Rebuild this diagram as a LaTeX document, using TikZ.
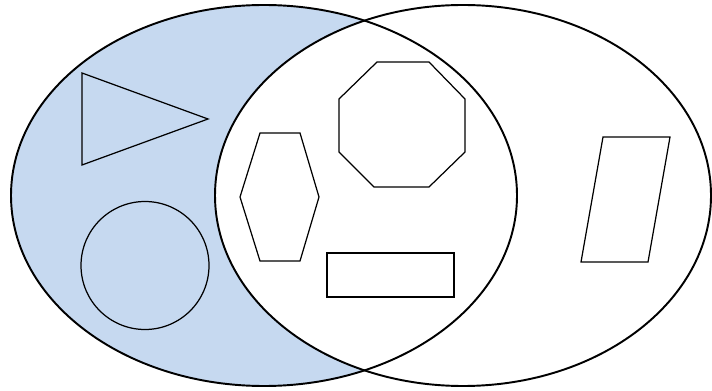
\documentclass[tikz,border=0pt]{standalone}
\usetikzlibrary{calc}
\definecolor{VennBlue}{HTML}{C6D9F0}

\begin{document}
\begin{tikzpicture}[
      x=0.02cm,y=-0.02cm,
      setline/.style={draw=black,line width=1.1pt},
      shapeline/.style={draw=black,line width=0.7pt,line join=miter}
    ]
      \useasboundingbox (0,0) rectangle (712,391);

      % the two sets
      \coordinate (setA) at (264,195.5);
      \coordinate (setB) at (463,195.5);
      \fill[VennBlue] (setA) ellipse [x radius=253,y radius=190.5];
      \fill[white] (setB) ellipse [x radius=248,y radius=190.5];
      \draw[setline] (setA) ellipse [x radius=253,y radius=190.5];
      \draw[setline] (setB) ellipse [x radius=248,y radius=190.5];

      % shapes in set A only
      \draw[shapeline] (82,73) -- (82,165) -- (208,119) -- cycle;
      \draw[shapeline] (145,265.5) circle [radius=64];

      % shapes in both sets
      \draw[shapeline] (260,133) -- (300,133) -- (319,197) -- (300,261)
        -- (260,261) -- (240,197) -- cycle;
      \draw[shapeline] (377,62) -- (429,62) -- (465,99) -- (465,152)
        -- (429,187) -- (374,187) -- (339,152) -- (339,99) -- cycle;
      \draw[shapeline] (327,253) rectangle (454,297);

      % shape in set B only
      \draw[shapeline] (603,137) -- (670,137) -- (648,262) -- (581,262) -- cycle;
    \end{tikzpicture}
\end{document}
